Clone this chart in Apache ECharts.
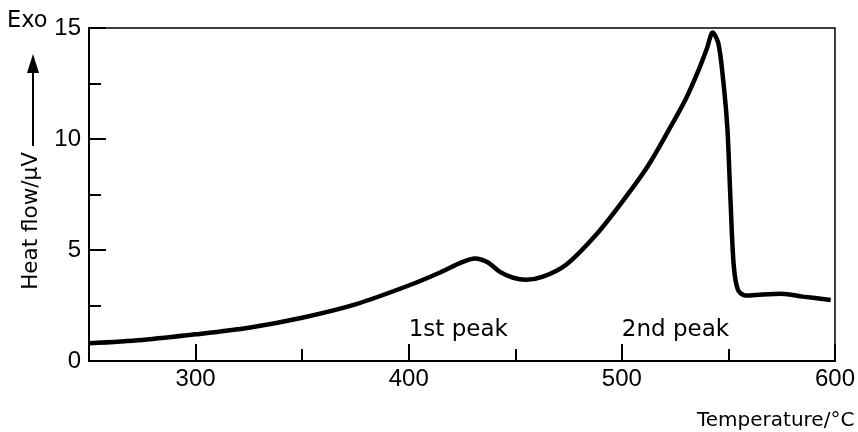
<!DOCTYPE html>
<html>
<head>
<meta charset="utf-8">
<script src="https://cdn.jsdelivr.net/npm/echarts@6/dist/echarts.min.js"></script>
<style>
html,body{margin:0;padding:0;background:#fff;}
#chart{width:858px;height:432px;}
</style>
</head>
<body>
<div id="chart"></div>
<script>
// Temperature (°C) and heat flow (µV)
const temperature = [250, 275, 300, 325, 350, 375, 400, 415, 425, 431, 437, 443, 449, 455, 463, 474, 488, 500, 512, 522, 530, 536, 540, 542.6, 545.3, 547.6, 549.5, 551, 552.5, 554.5, 558, 566, 575, 585, 598];
const heatFlow    = [0.8, 0.95, 1.2, 1.5, 1.95, 2.55, 3.4, 4.0, 4.45, 4.62, 4.45, 4.0, 3.75, 3.66, 3.8, 4.35, 5.7, 7.15, 8.75, 10.4, 11.8, 13.1, 14.1, 14.8, 14.3, 12.6, 10.5, 7.2, 4.3, 3.2, 2.95, 3.0, 3.03, 2.9, 2.75];
const xMajorTicks = [300, 400, 500, 600];
const xMinorTicks = [350, 450, 550];
const peakLabels  = ['1st peak', '2nd peak'];
const peakLabelX  = [400, 500];
const peakLabelY  = [1.4, 1.4];

const FONT = 'DejaVu Sans';
const NUMFONT = 'Liberation Sans';
const curve = temperature.map((t, i) => [t, heatFlow[i]]);
const notes = peakLabels.map((s, i) => [peakLabelX[i], peakLabelY[i], s]);

const chart = echarts.init(document.getElementById('chart'), null, {renderer: 'canvas'});
chart.setOption({
  backgroundColor: '#fff',
  animation: false,
  textStyle: {fontFamily: FONT, color: '#000'},
  grid: {left: 89, right: 21, top: 28, bottom: 71, show: true, borderColor: '#000', borderWidth: 1.5, backgroundColor: 'transparent'},
  xAxis: [{
    type: 'value', min: 250, max: 600, position: 'bottom',
    name: 'Temperature/°C', nameLocation: 'end', nameGap: -138,
    nameTextStyle: {fontFamily: FONT, fontSize: 20, color: '#000', align: 'left', verticalAlign: 'top', padding: [50, 0, 0, 0]},
    axisLine: {show: true, lineStyle: {color: '#000', width: 2}},
    axisTick: {show: true, inside: true, length: 17, customValues: xMajorTicks, lineStyle: {color: '#000', width: 2}},
    axisLabel: {show: true, customValues: xMajorTicks, fontFamily: NUMFONT, fontSize: 24, color: '#000', margin: 6},
    splitLine: {show: false}
  }, {
    type: 'value', min: 250, max: 600, position: 'bottom',
    axisLine: {show: false},
    axisTick: {show: true, inside: true, length: 12, customValues: xMinorTicks, lineStyle: {color: '#000', width: 2}},
    axisLabel: {show: false},
    splitLine: {show: false}
  }],
  yAxis: {
    type: 'value', min: 0, max: 15, interval: 5,
    name: 'Heat flow/µV', nameLocation: 'middle', nameGap: 47,
    nameTextStyle: {fontFamily: FONT, fontSize: 21.5, color: '#000', padding: [0, 53, 0, 0]},
    axisLine: {show: true, lineStyle: {color: '#000', width: 2}},
    axisTick: {show: true, inside: true, length: 17, lineStyle: {color: '#000', width: 2}},
    minorTick: {show: true, splitNumber: 2, length: 12, lineStyle: {color: '#000', width: 2}},
    axisLabel: {fontFamily: NUMFONT, fontSize: 24, color: '#000', margin: 8},
    splitLine: {show: false}
  },
  graphic: [
    {type: 'text', left: 7, top: 10, style: {text: 'Exo', fontFamily: FONT, fontSize: 22.5, fill: '#000'}},
    {type: 'line', shape: {x1: 33, y1: 146, x2: 33, y2: 70}, style: {stroke: '#000', lineWidth: 2}},
    {type: 'polygon', shape: {points: [[27, 73], [39, 73], [33, 54]]}, style: {fill: '#000'}}
  ],
  series: [{
    type: 'line', data: curve, xAxisIndex: 0,
    smooth: 0.3, showSymbol: false, symbol: 'none',
    lineStyle: {color: '#000', width: 4.5}, z: 3
  }, {
    type: 'scatter', data: notes, xAxisIndex: 0, symbolSize: 0,
    itemStyle: {color: '#000', opacity: 1},
    label: {show: true, position: 'right', distance: 0, formatter: p => p.data[2], fontFamily: FONT, fontSize: 23, color: '#000', opacity: 1},
    emphasis: {disabled: true},
    z: 4
  }]
});
</script>
</body>
</html>
